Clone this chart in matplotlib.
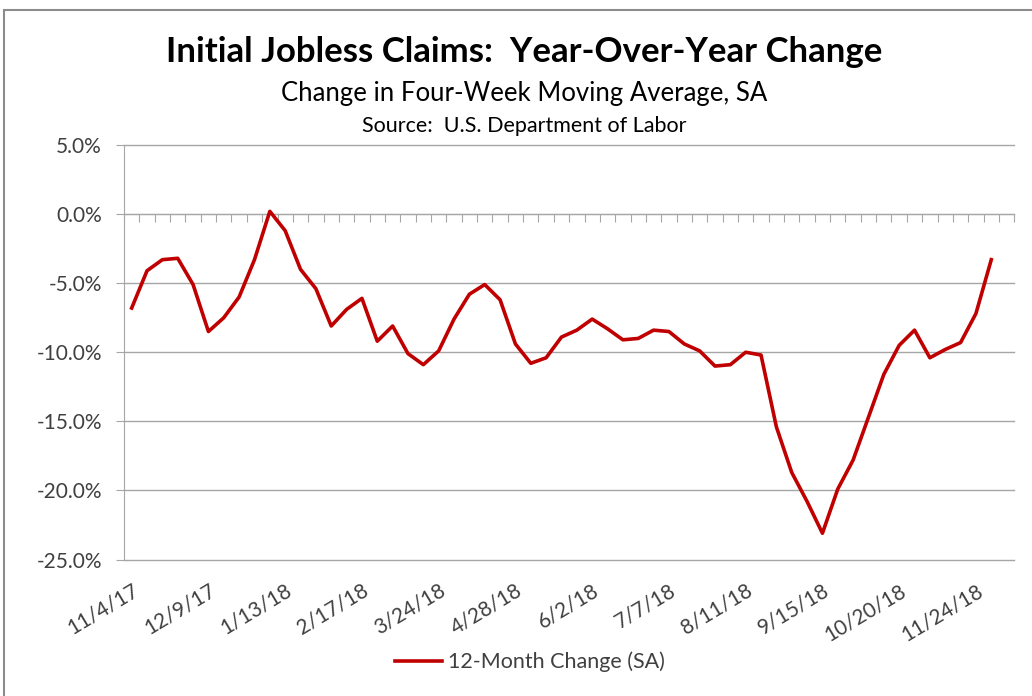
import numpy as np
import pandas as pd
import matplotlib
matplotlib.use("Agg")
import matplotlib.pyplot as plt
from matplotlib.patches import Rectangle

plt.rcParams['font.family'] = ['Lato', 'DejaVu Sans']

# weekly 12-month change in the 4-week moving average of initial claims (%)
first_week = "2017-11-04"
yoy_change = [
    -6.8, -4.1, -3.3, -3.2, -5.1, -8.5, -7.5, -6.0, -3.3, 0.2,
    -1.2, -4.0, -5.4, -8.1, -6.9, -6.1, -9.2, -8.1, -10.1, -10.9,
    -9.9, -7.6, -5.8, -5.1, -6.2, -9.4, -10.8, -10.4, -8.9, -8.4,
    -7.6, -8.3, -9.1, -9.0, -8.4, -8.5, -9.4, -9.9, -11.0, -10.9,
    -10.0, -10.2, -15.4, -18.7, -20.8, -23.1, -19.9, -17.8, -14.7, -11.6,
    -9.5, -8.4, -10.4, -9.8, -9.3, -7.2, -3.3,
]
series_name = "12-Month Change (SA)"

title = "Initial Jobless Claims:  Year-Over-Year Change"
subtitle = "Change in Four-Week Moving Average, SA"
source = "Source:  U.S. Department of Labor"

red = "#C00000"
grid_gray = "#A6A6A6"
text_gray = "#404040"

# one extra (empty) weekly category at the end, as in the spreadsheet
weeks = pd.date_range(first_week, periods=len(yoy_change) + 1, freq="7D")
label_pos = np.arange(0, len(weeks), 5)
label_txt = [f"{d.month}/{d.day}/{d.year % 100}" for d in weeks[label_pos]]

W, H = 1032, 696
fig = plt.figure(figsize=(W / 100, H / 100), dpi=100)
ax = fig.add_axes([124 / W, 1 - 559.5 / H, (1014.3 - 124) / W, (559.5 - 145) / H])

ax.plot(np.arange(len(yoy_change)), yoy_change, color=red, lw=2.6,
        solid_joinstyle="round", label=series_name, zorder=3)

ax.set_xlim(-0.5, len(weeks) - 0.5)
ax.set_ylim(-25, 5)
ax.set_yticks(np.arange(-25, 6, 5))
ax.yaxis.set_major_formatter(lambda v, p: f"{v:.1f}%")
ax.grid(axis="y", color=grid_gray, lw=1)
for gl in ax.get_ygridlines():
    gl.set_clip_on(False)

for s in ["top", "right", "bottom"]:
    ax.spines[s].set_visible(False)
ax.spines["left"].set_color(grid_gray)

ax.tick_params(axis="y", direction="out", length=6, color=grid_gray,
               labelsize=15, labelcolor=text_gray, pad=10)
ax.set_xticks(label_pos)
ax.set_xticklabels(label_txt, rotation=31, ha="right", rotation_mode="anchor")
ax.tick_params(axis="x", length=0, labelsize=15, labelcolor=text_gray, pad=15)

# category axis crosses at 0% with a tick mark between every week
cat_axis = ax.secondary_xaxis(0, transform=ax.transData)
cat_axis.set_xticks(np.arange(len(weeks) + 1) - 0.5)
cat_axis.set_xticklabels([])
cat_axis.tick_params(direction="out", length=6, color=grid_gray)
cat_axis.spines["bottom"].set_color(grid_gray)

fig.text(0.508, 1 - 52 / H, title, ha="center", va="center",
         fontsize=25, fontweight="bold", color="black")
fig.text(0.508, 1 - 93 / H, subtitle, ha="center", va="center",
         fontsize=18.5, color="black")
fig.text(0.508, 1 - 126 / H, source, ha="center", va="center",
         fontsize=15.5, color="black")

fig.legend(loc="center", bbox_to_anchor=(530 / W, 1 - 662 / H), frameon=False,
           fontsize=15.5, handlelength=2.2, handletextpad=0.3, labelcolor=text_gray)

fig.add_artist(Rectangle((4 / W, -0.1), 1.2, 1.1 - 10 / H, transform=fig.transFigure,
                         fill=False, edgecolor="#8C8C8C", lw=1.5))

fig.savefig("out.png", dpi=100)
